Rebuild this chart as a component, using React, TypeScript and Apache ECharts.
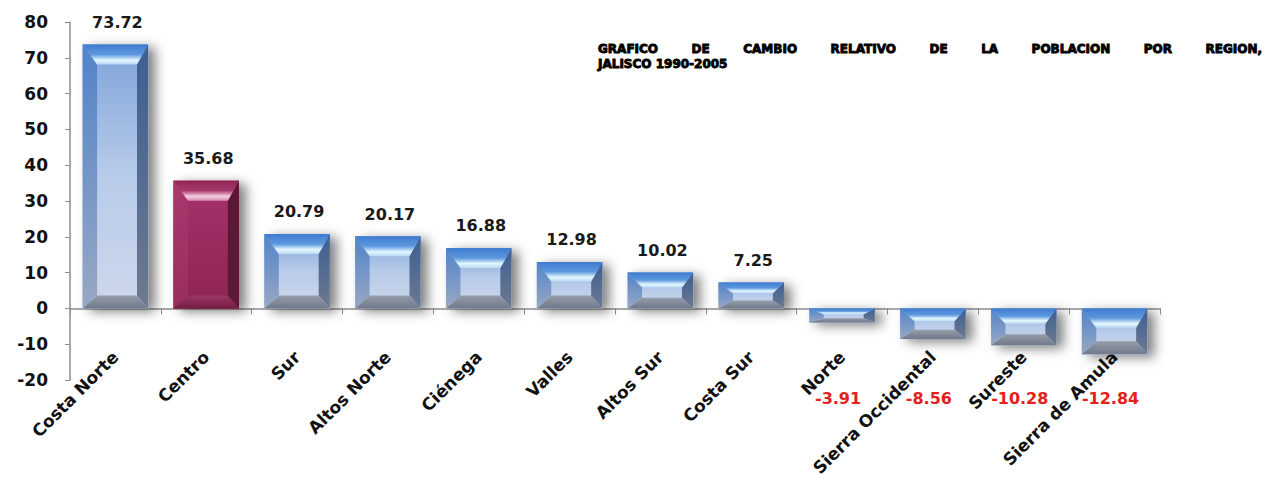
import React, { useEffect, useRef } from 'react';
import * as echarts from 'echarts';

const categories = [
  'Costa Norte', 'Centro', 'Sur', 'Altos Norte', 'Ciénega', 'Valles',
  'Altos Sur', 'Costa Sur', 'Norte', 'Sierra Occidental', 'Sureste', 'Sierra de Amula',
];
const values = [73.72, 35.68, 20.79, 20.17, 16.88, 12.98, 10.02, 7.25, -3.91, -8.56, -10.28, -12.84];
const yMin = -20;
const yMax = 80;
const yInterval = 10;
const titleLine1 = 'GRAFICO DE CAMBIO RELATIVO DE LA POBLACION POR REGION,';
const titleLine2 = 'JALISCO 1990-2005';
const highlighted = 'Centro';

const FAMILY = 'DejaVu Sans';

const lg = (stops: [number, string][], horizontal = false) =>
  new echarts.graphic.LinearGradient(0, 0, horizontal ? 1 : 0, horizontal ? 0 : 1,
    stops.map(([offset, color]) => ({ offset, color })));

const bluePal = {
  shadow: '#7f9cc8',
  face: () => lg([[0, '#7ea3d9'], [0.5, '#b8cbea'], [1, '#cdd7ea']]),
  left: () => lg([[0, '#5283c9'], [1, '#98a8c4']]),
  right: () => lg([[0, '#3d5f92'], [1, '#6d798f']]),
  top: () => lg([[0, '#3f7bcf'], [0.5, '#5c98de'], [0.78, '#e2f6ff'], [1, '#bcd9f2']]),
  bottom: () => lg([[0, '#959dab'], [1, '#6f7889']]),
};
const maroonPal = {
  shadow: '#8a2450',
  face: () => lg([[0, '#a4346a'], [0.5, '#9a2b5f'], [1, '#8c2452']]),
  left: () => lg([[0, '#a8386c'], [1, '#9a2e60']]),
  right: () => lg([[0, '#5c1535'], [1, '#5e1838']]),
  top: () => lg([[0, '#8e2455'], [0.5, '#a83a6c'], [0.78, '#f7cde3'], [1, '#d78bb0']]),
  bottom: () => lg([[0, '#9a3766'], [1, '#761c44']]),
};

function measure(text: string, font: string): number {
  const c = document.createElement('canvas');
  const ctx = c.getContext('2d');
  if (!ctx) return text.length * 8;
  ctx.font = font;
  return ctx.measureText(text).width;
}

export default function App() {
  const ref = useRef<HTMLDivElement>(null);

  useEffect(() => {
    document.body.style.margin = '0';
    if (!ref.current) return;
    const chart = echarts.init(ref.current, undefined, { renderer: 'svg' });

    const tSize = 12;
    const titleFontCss = `bold ${tSize}px "${FAMILY}"`;
    const words = titleLine1.split(' ');
    const tLeft = 598;
    const tRight = 1262;
    const widths = words.map((w) => measure(w, titleFontCss));
    const sum = widths.reduce((a, b) => a + b, 0);
    const gap = (tRight - tLeft - sum) / (words.length - 1);
    const tStyle = {
      fontSize: tSize,
      fontWeight: 'bold',
      fontFamily: FAMILY,
      fill: '#000',
      stroke: '#000',
      lineWidth: 0.9,
      align: 'left',
      verticalAlign: 'middle',
    };
    let cx = tLeft;
    const titleEls: any[] = words.map((w, k) => {
      const el = {
        type: 'text',
        x: cx,
        y: 49,
        style: { ...tStyle, text: w },
      };
      cx += widths[k] + gap;
      return el;
    });
    titleEls.push({
      type: 'text',
      x: tLeft,
      y: 64,
      style: { ...tStyle, text: titleLine2 },
    });

    const renderItem = (params: any, api: any) => {
      const i = api.value(0);
      const v = api.value(1);
      const p1 = api.coord([i, v]);
      const p0 = api.coord([i, 0]);
      const bw = api.size([1, 0])[0] * 0.72;
      const xL = p1[0] - bw / 2;
      const xR = p1[0] + bw / 2;
      const yT = Math.min(p0[1], p1[1]);
      const yB = Math.max(p0[1], p1[1]);
      const h = yB - yT;
      const pal = categories[i] === highlighted ? maroonPal : bluePal;
      const bxL = bw * 0.22;
      const bxR = bw * 0.17;
      const bt = Math.min(20, h * 0.42);
      const bb = Math.min(13, h * 0.3);
      const iL = xL + bxL;
      const iR = xR - bxR;
      const iT = yT + bt;
      const iB = yB - bb;
      const children: any[] = [
        {
          type: 'rect',
          shape: { x: xL, y: yT, width: bw, height: h },
          style: {
            fill: pal.shadow,
            shadowBlur: 12,
            shadowOffsetX: 7,
            shadowOffsetY: 3,
            shadowColor: 'rgba(0,0,0,0.5)',
          },
        },
        { type: 'rect', shape: { x: xL, y: yT, width: bw, height: h }, style: { fill: pal.face() } },
        { type: 'polygon', shape: { points: [[xL, yT], [iL, iT], [iL, iB], [xL, yB]] }, style: { fill: pal.left() } },
        { type: 'polygon', shape: { points: [[xR, yT], [iR, iT], [iR, iB], [xR, yB]] }, style: { fill: pal.right() } },
        { type: 'polygon', shape: { points: [[xL, yT], [xR, yT], [iR, iT], [iL, iT]] }, style: { fill: pal.top() } },
        { type: 'polygon', shape: { points: [[xL, yB], [xR, yB], [iR, iB], [iL, iB]] }, style: { fill: pal.bottom() } },
      ];
      if (v >= 0) {
        children.push({
          type: 'text',
          style: {
            text: v.toFixed(2),
            x: p1[0] + 2,
            y: yT - 22,
            align: 'center',
            verticalAlign: 'middle',
            fontSize: 16,
            fontWeight: 'bold',
            fontFamily: FAMILY,
            fill: '#1a1a1a',
          },
        });
      } else {
        const pm = api.coord([i, yMin]);
        children.push({
          type: 'text',
          style: {
            text: v.toFixed(2),
            x: p1[0] - 4,
            y: pm[1] + 18,
            align: 'center',
            verticalAlign: 'middle',
            fontSize: 16,
            fontWeight: 'bold',
            fontFamily: FAMILY,
            fill: '#e3211c',
          },
        });
      }
      return { type: 'group', children };
    };

    chart.setOption({
      animation: false,
      backgroundColor: '#ffffff',
      grid: { left: 70, right: 114, top: 22, bottom: 97, containLabel: false, outerBoundsMode: 'none' },
      xAxis: {
        type: 'category',
        data: categories,
        axisLine: { onZero: true, lineStyle: { color: '#8c8c8c', width: 1.5 } },
        axisTick: { show: true, length: 6, lineStyle: { color: '#8c8c8c' } },
        axisLabel: {
          rotate: 45,
          margin: -26,
          interval: 0,
          color: '#111',
          fontFamily: FAMILY,
          fontWeight: 'bold',
          fontSize: 17,
        },
      },
      yAxis: {
        type: 'value',
        min: yMin,
        max: yMax,
        interval: yInterval,
        axisLine: { show: true, lineStyle: { color: '#8c8c8c', width: 1.5 } },
        axisTick: { show: true, length: 5, lineStyle: { color: '#8c8c8c' } },
        splitLine: { show: false },
        axisLabel: {
          margin: 22,
          color: '#111',
          fontFamily: FAMILY,
          fontWeight: 'bold',
          fontSize: 17,
        },
      },
      graphic: titleEls,
      series: [
        {
          type: 'custom',
          renderItem,
          data: values.map((v, i) => [i, v]),
          encode: { x: 0, y: 1 },
          clip: false,
        },
      ],
    });

    return () => chart.dispose();
  }, []);

  return <div ref={ref} style={{ width: 1274, height: 477 }} />;
}
